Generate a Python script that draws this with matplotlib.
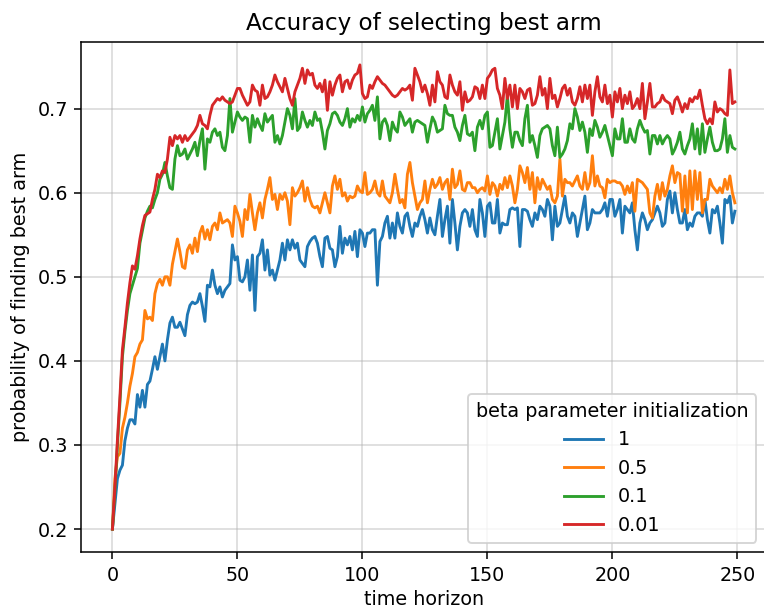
import numpy as np
import matplotlib
matplotlib.use("Agg")
import matplotlib.pyplot as plt

# Probability of picking the best arm at each step, per beta initialization
labels = ["1", "0.5", "0.1", "0.01"]

acc_beta_1 = [
    0.2, 0.23, 0.26, 0.27, 0.276, 0.305, 0.32, 0.33, 0.33, 0.325,
    0.36, 0.345, 0.365, 0.345, 0.372, 0.376, 0.39, 0.405, 0.39, 0.405,
    0.42, 0.4, 0.425, 0.445, 0.452, 0.44, 0.44, 0.446, 0.438, 0.43,
    0.455, 0.466, 0.47, 0.468, 0.47, 0.48, 0.465, 0.447, 0.49,
    0.488, 0.508, 0.49, 0.48, 0.488, 0.476, 0.484, 0.488, 0.492, 0.538,
    0.52, 0.524, 0.496, 0.494, 0.5, 0.52, 0.484, 0.526, 0.46, 0.524,
    0.528, 0.544, 0.508, 0.532, 0.502, 0.508, 0.496, 0.508, 0.52, 0.54,
    0.52, 0.544, 0.532, 0.544, 0.534, 0.54, 0.52, 0.516, 0.512, 0.536,
    0.542, 0.546,
    0.548, 0.54, 0.524, 0.512, 0.546, 0.548, 0.534, 0.532, 0.512, 0.524,
    0.56, 0.528, 0.546, 0.538, 0.548, 0.532, 0.554, 0.524, 0.556, 0.552,
    0.536, 0.552, 0.552, 0.556, 0.556, 0.49, 0.542, 0.548, 0.564, 0.572,
    0.546, 0.564, 0.546, 0.576, 0.56, 0.552, 0.572, 0.576, 0.56, 0.548,
    0.564, 0.56,
    0.572, 0.58, 0.568, 0.552, 0.57, 0.556, 0.55, 0.572, 0.592, 0.548,
    0.568, 0.584, 0.54, 0.592, 0.564, 0.532, 0.56, 0.576, 0.58, 0.576,
    0.56, 0.58, 0.556, 0.548, 0.592, 0.576, 0.548, 0.584, 0.588, 0.564,
    0.564, 0.592, 0.552, 0.564, 0.562, 0.562, 0.58, 0.582, 0.58, 0.582,
    0.536, 0.58, 0.58, 0.578,
    0.568, 0.56, 0.576, 0.568, 0.584, 0.58, 0.572, 0.592, 0.584, 0.544,
    0.584, 0.56, 0.564, 0.58, 0.596, 0.572, 0.564, 0.576, 0.572, 0.548,
    0.564, 0.58, 0.596, 0.556, 0.564, 0.58, 0.576, 0.576, 0.576, 0.58,
    0.588, 0.572, 0.592, 0.592, 0.572, 0.58, 0.592, 0.552, 0.584, 0.58,
    0.576, 0.588,
    0.556, 0.532, 0.564, 0.576, 0.568, 0.556, 0.564, 0.568, 0.576, 0.584,
    0.576, 0.56, 0.564, 0.592, 0.602, 0.576, 0.6, 0.58, 0.564, 0.564,
    0.58, 0.556, 0.564, 0.56, 0.572, 0.576, 0.576, 0.572, 0.592, 0.568,
    0.552, 0.58, 0.576, 0.584, 0.564, 0.54, 0.592, 0.588, 0.596, 0.564,
    0.578,
]

acc_beta_05 = [
    0.2, 0.26, 0.286, 0.29, 0.32, 0.333, 0.35, 0.37, 0.385, 0.405,
    0.41, 0.42, 0.425, 0.46, 0.45, 0.452, 0.448, 0.48, 0.492, 0.497,
    0.49, 0.5, 0.5, 0.49, 0.515, 0.53, 0.545, 0.53, 0.512, 0.51,
    0.532, 0.538, 0.528, 0.546, 0.53, 0.552, 0.56, 0.545, 0.556,
    0.544, 0.56, 0.564, 0.556, 0.576, 0.564, 0.566, 0.568, 0.564, 0.548,
    0.584, 0.576, 0.566, 0.548, 0.58, 0.568, 0.598, 0.576, 0.556, 0.576,
    0.588, 0.57, 0.592, 0.604, 0.618, 0.592, 0.598, 0.58, 0.598, 0.592,
    0.6, 0.59, 0.562, 0.606, 0.596, 0.6, 0.606, 0.614, 0.59, 0.606,
    0.592, 0.584,
    0.582, 0.584, 0.576, 0.588, 0.6, 0.588, 0.576, 0.608, 0.62, 0.604,
    0.616, 0.596, 0.6, 0.59, 0.596, 0.594, 0.596, 0.608, 0.602, 0.6,
    0.624, 0.598, 0.6, 0.604, 0.614, 0.6, 0.596, 0.614, 0.596, 0.592,
    0.588, 0.6, 0.622, 0.604, 0.588, 0.592, 0.582, 0.622, 0.636, 0.612,
    0.596, 0.58,
    0.588, 0.592, 0.614, 0.588, 0.604, 0.616, 0.606, 0.61, 0.618, 0.604,
    0.612, 0.616, 0.592, 0.628, 0.606, 0.61, 0.626, 0.604, 0.602, 0.612,
    0.612, 0.606, 0.606, 0.6, 0.604, 0.606, 0.602, 0.62, 0.598, 0.612,
    0.608, 0.596, 0.61, 0.604, 0.618, 0.606, 0.62, 0.608, 0.588, 0.604,
    0.632, 0.624, 0.612, 0.63,
    0.604, 0.624, 0.588, 0.618, 0.604, 0.616, 0.61, 0.604, 0.608, 0.592,
    0.588, 0.596, 0.64, 0.596, 0.616, 0.612, 0.612, 0.608, 0.614, 0.62,
    0.608, 0.604, 0.624, 0.604, 0.612, 0.644, 0.608, 0.62, 0.608, 0.606,
    0.594, 0.616, 0.612, 0.614, 0.614, 0.612, 0.612, 0.608, 0.598, 0.608,
    0.6, 0.612,
    0.578, 0.616, 0.614, 0.612, 0.608, 0.604, 0.576, 0.57, 0.596, 0.61,
    0.592, 0.612, 0.596, 0.604, 0.62, 0.632, 0.612, 0.624, 0.622, 0.578,
    0.62, 0.576, 0.626, 0.58, 0.626, 0.592, 0.624, 0.576, 0.592, 0.592,
    0.616, 0.608, 0.604, 0.6, 0.606, 0.6, 0.616, 0.604, 0.62, 0.6,
    0.588,
]

acc_beta_01 = [
    0.2, 0.245, 0.3, 0.35, 0.405, 0.435, 0.46, 0.48, 0.49, 0.5,
    0.51, 0.54, 0.555, 0.57, 0.578, 0.584, 0.582, 0.592, 0.6, 0.616,
    0.622, 0.636, 0.62, 0.606, 0.604, 0.64, 0.656, 0.644, 0.646, 0.652,
    0.64, 0.646, 0.652, 0.66, 0.644, 0.662, 0.676, 0.628, 0.664,
    0.66, 0.672, 0.676, 0.668, 0.672, 0.654, 0.65, 0.668, 0.712, 0.672,
    0.684, 0.696, 0.69, 0.686, 0.69, 0.688, 0.66, 0.692, 0.678, 0.688,
    0.68, 0.674, 0.694, 0.684, 0.688, 0.692, 0.66, 0.668, 0.658, 0.668,
    0.684, 0.7, 0.692, 0.676, 0.712, 0.674, 0.678, 0.696, 0.686, 0.678,
    0.686, 0.68,
    0.696, 0.686, 0.688, 0.672, 0.652, 0.674, 0.682, 0.694, 0.696, 0.692,
    0.684, 0.68, 0.688, 0.7, 0.678, 0.688, 0.684, 0.692, 0.686, 0.702,
    0.684, 0.694, 0.698, 0.704, 0.686, 0.714, 0.664, 0.684, 0.688, 0.68,
    0.662, 0.684, 0.676, 0.672, 0.696, 0.69, 0.68, 0.684, 0.688, 0.672,
    0.684, 0.686,
    0.684, 0.682, 0.68, 0.66, 0.676, 0.69, 0.684, 0.672, 0.674, 0.676,
    0.704, 0.694, 0.692, 0.692, 0.678, 0.672, 0.662, 0.68, 0.692, 0.67,
    0.668, 0.672, 0.65, 0.678, 0.686, 0.676, 0.692, 0.696, 0.654, 0.656,
    0.672, 0.688, 0.652, 0.668, 0.684, 0.716, 0.676, 0.654, 0.672, 0.672,
    0.662, 0.656, 0.688, 0.704,
    0.66, 0.668, 0.656, 0.642, 0.668, 0.676, 0.678, 0.68, 0.676, 0.656,
    0.644, 0.678, 0.642, 0.646, 0.652, 0.662, 0.682, 0.676, 0.7, 0.69,
    0.674, 0.684, 0.672, 0.648, 0.676, 0.668, 0.686, 0.678, 0.666, 0.672,
    0.68, 0.668, 0.656, 0.644, 0.676, 0.664, 0.664, 0.688, 0.66, 0.66,
    0.676, 0.664,
    0.66, 0.676, 0.686, 0.678, 0.672, 0.674, 0.646, 0.668, 0.668, 0.658,
    0.668, 0.658, 0.664, 0.668, 0.664, 0.646, 0.652, 0.66, 0.672, 0.652,
    0.646, 0.656, 0.664, 0.682, 0.652, 0.676, 0.646, 0.682, 0.648, 0.664,
    0.678, 0.66, 0.65, 0.65, 0.652, 0.664, 0.688, 0.648, 0.668, 0.654,
    0.652,
]

acc_beta_001 = [
    0.2, 0.25, 0.306, 0.357, 0.413, 0.44, 0.469, 0.493, 0.513, 0.509,
    0.525, 0.545, 0.561, 0.573, 0.575, 0.577, 0.592, 0.604, 0.622, 0.618,
    0.626, 0.624, 0.64, 0.666, 0.656, 0.668, 0.664, 0.668, 0.66, 0.668,
    0.662, 0.666, 0.67, 0.674, 0.68, 0.692, 0.682, 0.68, 0.676,
    0.692, 0.704, 0.708, 0.712, 0.71, 0.714, 0.71, 0.708, 0.706, 0.708,
    0.716, 0.724, 0.724, 0.716, 0.71, 0.704, 0.708, 0.728, 0.722, 0.72,
    0.704, 0.728, 0.712, 0.714, 0.72, 0.728, 0.74, 0.732, 0.726, 0.72,
    0.736, 0.724, 0.712, 0.704, 0.72, 0.728, 0.736, 0.748, 0.73, 0.746,
    0.74, 0.742,
    0.728, 0.724, 0.73, 0.72, 0.734, 0.698, 0.732, 0.716, 0.728, 0.736,
    0.74, 0.72, 0.732, 0.734, 0.724, 0.734, 0.74, 0.742, 0.752, 0.718,
    0.712, 0.714, 0.728, 0.724, 0.732, 0.738, 0.734, 0.73, 0.728, 0.724,
    0.72, 0.716, 0.714, 0.716, 0.72, 0.724, 0.722, 0.724, 0.728, 0.71,
    0.748, 0.74,
    0.732, 0.72, 0.728, 0.718, 0.704, 0.728, 0.708, 0.744, 0.732, 0.728,
    0.714, 0.712, 0.74, 0.728, 0.72, 0.716, 0.732, 0.698, 0.72, 0.708,
    0.71, 0.714, 0.726, 0.724, 0.712, 0.728, 0.712, 0.736, 0.74, 0.746,
    0.748, 0.724, 0.716, 0.7, 0.736, 0.712, 0.728, 0.702, 0.728, 0.7,
    0.724, 0.72, 0.712, 0.722,
    0.724, 0.704, 0.706, 0.716, 0.738, 0.716, 0.724, 0.7, 0.736, 0.712,
    0.716, 0.702, 0.712, 0.724, 0.728, 0.716, 0.724, 0.708, 0.704, 0.712,
    0.726, 0.708, 0.728, 0.712, 0.728, 0.692, 0.72, 0.738, 0.714, 0.708,
    0.728, 0.706, 0.716, 0.69, 0.72, 0.708, 0.724, 0.7, 0.716, 0.706,
    0.72, 0.7,
    0.704, 0.712, 0.7, 0.73, 0.688, 0.708, 0.73, 0.702, 0.702, 0.706,
    0.708, 0.716, 0.71, 0.708, 0.706, 0.694, 0.71, 0.714, 0.706, 0.696,
    0.706, 0.7, 0.712, 0.708, 0.714, 0.712, 0.722, 0.704, 0.688, 0.682,
    0.688, 0.682, 0.708, 0.696, 0.7, 0.698, 0.694, 0.692, 0.746, 0.706,
    0.708,
]

series = [acc_beta_1, acc_beta_05, acc_beta_01, acc_beta_001]

DPI = 138
fig = plt.figure(figsize=(764 / DPI, 608 / DPI), dpi=DPI)
ax = fig.add_axes([81.3 / 764, (608 - 552.3) / 608,
                   (766.0 - 81.3) / 764, (552.3 - 41.7) / 608])

for values, label in zip(series, labels):
    ax.plot(np.arange(len(values)), values, label=label)

ax.set_title("Accuracy of selecting best arm")
ax.set_xlabel("time horizon", labelpad=2.5)
ax.set_ylabel("probability of finding best arm")
ax.grid(True, alpha=0.5)
ax.legend(title="beta parameter initialization", loc="lower right")

fig.savefig("out.png", dpi=DPI)
